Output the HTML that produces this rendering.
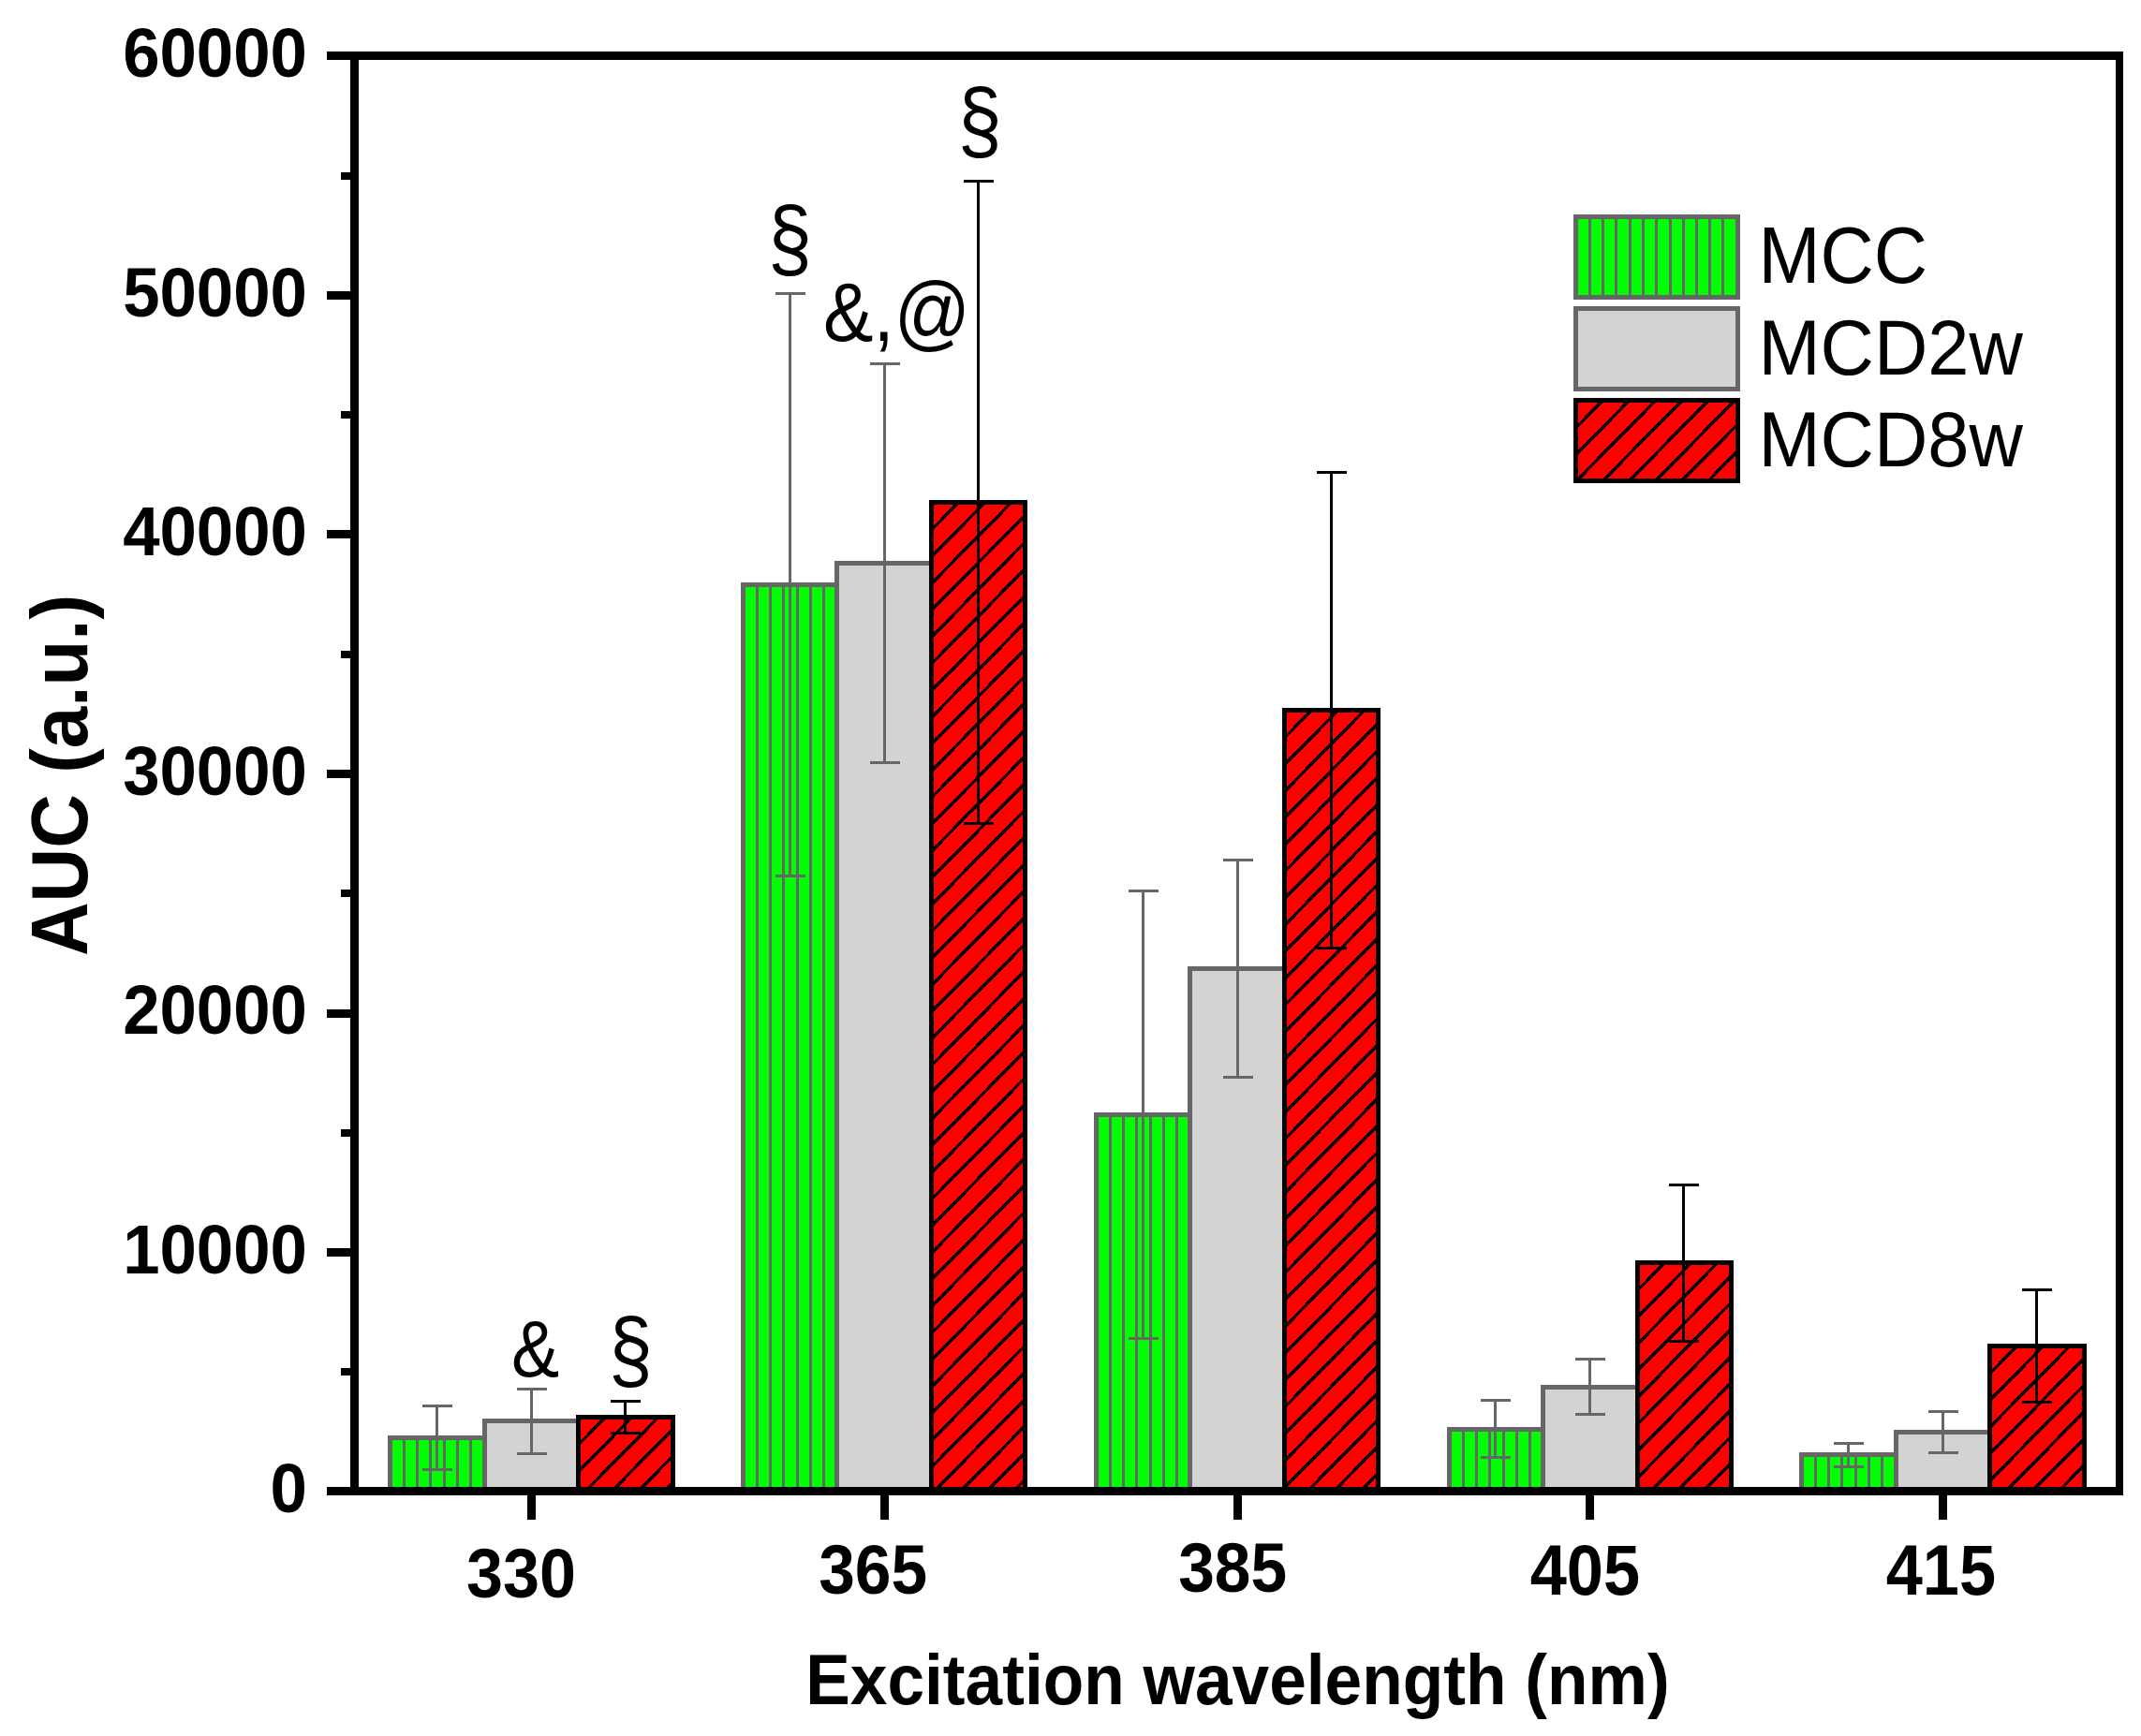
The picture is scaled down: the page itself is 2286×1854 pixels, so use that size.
<!DOCTYPE html>
<html lang="en"><head><meta charset="utf-8"><title>AUC vs excitation wavelength</title>
<style>html,body{margin:0;padding:0;background:#fff}svg{display:block}text{font-family:"Liberation Sans",sans-serif;fill:#000}</style></head><body>
<svg width="2286" height="1854" viewBox="0 0 2286 1854">
<rect x="0" y="0" width="2286" height="1854" fill="#fff"/>
<g shape-rendering="crispEdges">
<rect x="414" y="1533" width="106" height="59" fill="#666666"/>
<rect x="419" y="1538" width="96" height="54" fill="#00ff00"/>
<rect x="430" y="1538" width="3" height="54" fill="#666666"/>
<rect x="444" y="1538" width="3" height="54" fill="#666666"/>
<rect x="458" y="1538" width="3" height="54" fill="#666666"/>
<rect x="473" y="1538" width="3" height="54" fill="#666666"/>
<rect x="487" y="1538" width="3" height="54" fill="#666666"/>
<rect x="501" y="1538" width="3" height="54" fill="#666666"/>
<rect x="515" y="1515" width="105" height="77" fill="#666666"/>
<rect x="520" y="1520" width="95" height="72" fill="#d3d3d3"/>
<rect x="615" y="1511" width="106" height="81" fill="#000"/>
<rect x="620" y="1516" width="96" height="76" fill="#ff0000"/>
<clipPath id="c0"><rect x="620" y="1516" width="96" height="76"/></clipPath>
<path d="M611 1549.70L725 1433.88M611 1578.30L725 1462.48M611 1606.90L725 1491.08M611 1635.50L725 1519.68M611 1664.10L725 1548.28M611 1692.70L725 1576.88M611 1721.30L725 1605.48" stroke="#000" stroke-width="3.4" fill="none" clip-path="url(#c0)"/>
<rect x="791" y="622" width="105" height="970" fill="#666666"/>
<rect x="796" y="627" width="95" height="965" fill="#00ff00"/>
<rect x="807" y="627" width="3" height="965" fill="#666666"/>
<rect x="821" y="627" width="3" height="965" fill="#666666"/>
<rect x="835" y="627" width="3" height="965" fill="#666666"/>
<rect x="850" y="627" width="3" height="965" fill="#666666"/>
<rect x="864" y="627" width="3" height="965" fill="#666666"/>
<rect x="878" y="627" width="3" height="965" fill="#666666"/>
<rect x="891" y="599" width="106" height="993" fill="#666666"/>
<rect x="896" y="604" width="96" height="988" fill="#d3d3d3"/>
<rect x="992" y="534" width="105" height="1058" fill="#000"/>
<rect x="997" y="539" width="95" height="1053" fill="#ff0000"/>
<clipPath id="c1"><rect x="997" y="539" width="95" height="1053"/></clipPath>
<path d="M988 572.70L1101 457.90M988 601.30L1101 486.50M988 629.90L1101 515.10M988 658.50L1101 543.70M988 687.10L1101 572.30M988 715.70L1101 600.90M988 744.30L1101 629.50M988 772.90L1101 658.10M988 801.50L1101 686.70M988 830.10L1101 715.30M988 858.70L1101 743.90M988 887.30L1101 772.50M988 915.90L1101 801.10M988 944.50L1101 829.70M988 973.10L1101 858.30M988 1001.70L1101 886.90M988 1030.30L1101 915.50M988 1058.90L1101 944.10M988 1087.50L1101 972.70M988 1116.10L1101 1001.30M988 1144.70L1101 1029.90M988 1173.30L1101 1058.50M988 1201.90L1101 1087.10M988 1230.50L1101 1115.70M988 1259.10L1101 1144.30M988 1287.70L1101 1172.90M988 1316.30L1101 1201.50M988 1344.90L1101 1230.10M988 1373.50L1101 1258.70M988 1402.10L1101 1287.30M988 1430.70L1101 1315.90M988 1459.30L1101 1344.50M988 1487.90L1101 1373.10M988 1516.50L1101 1401.70M988 1545.10L1101 1430.30M988 1573.70L1101 1458.90M988 1602.30L1101 1487.50M988 1630.90L1101 1516.10M988 1659.50L1101 1544.70M988 1688.10L1101 1573.30M988 1716.70L1101 1601.90" stroke="#000" stroke-width="3.4" fill="none" clip-path="url(#c1)"/>
<rect x="1168" y="1188" width="105" height="404" fill="#666666"/>
<rect x="1173" y="1193" width="95" height="399" fill="#00ff00"/>
<rect x="1184" y="1193" width="3" height="399" fill="#666666"/>
<rect x="1198" y="1193" width="3" height="399" fill="#666666"/>
<rect x="1212" y="1193" width="3" height="399" fill="#666666"/>
<rect x="1227" y="1193" width="3" height="399" fill="#666666"/>
<rect x="1241" y="1193" width="3" height="399" fill="#666666"/>
<rect x="1255" y="1193" width="3" height="399" fill="#666666"/>
<rect x="1268" y="1032" width="106" height="560" fill="#666666"/>
<rect x="1273" y="1037" width="96" height="555" fill="#d3d3d3"/>
<rect x="1369" y="756" width="105" height="836" fill="#000"/>
<rect x="1374" y="761" width="95" height="831" fill="#ff0000"/>
<clipPath id="c2"><rect x="1374" y="761" width="95" height="831"/></clipPath>
<path d="M1365 794.70L1478 679.90M1365 823.30L1478 708.50M1365 851.90L1478 737.10M1365 880.50L1478 765.70M1365 909.10L1478 794.30M1365 937.70L1478 822.90M1365 966.30L1478 851.50M1365 994.90L1478 880.10M1365 1023.50L1478 908.70M1365 1052.10L1478 937.30M1365 1080.70L1478 965.90M1365 1109.30L1478 994.50M1365 1137.90L1478 1023.10M1365 1166.50L1478 1051.70M1365 1195.10L1478 1080.30M1365 1223.70L1478 1108.90M1365 1252.30L1478 1137.50M1365 1280.90L1478 1166.10M1365 1309.50L1478 1194.70M1365 1338.10L1478 1223.30M1365 1366.70L1478 1251.90M1365 1395.30L1478 1280.50M1365 1423.90L1478 1309.10M1365 1452.50L1478 1337.70M1365 1481.10L1478 1366.30M1365 1509.70L1478 1394.90M1365 1538.30L1478 1423.50M1365 1566.90L1478 1452.10M1365 1595.50L1478 1480.70M1365 1624.10L1478 1509.30M1365 1652.70L1478 1537.90M1365 1681.30L1478 1566.50M1365 1709.90L1478 1595.10" stroke="#000" stroke-width="3.4" fill="none" clip-path="url(#c2)"/>
<rect x="1545" y="1524" width="105" height="68" fill="#666666"/>
<rect x="1550" y="1529" width="95" height="63" fill="#00ff00"/>
<rect x="1561" y="1529" width="3" height="63" fill="#666666"/>
<rect x="1575" y="1529" width="3" height="63" fill="#666666"/>
<rect x="1589" y="1529" width="3" height="63" fill="#666666"/>
<rect x="1604" y="1529" width="3" height="63" fill="#666666"/>
<rect x="1618" y="1529" width="3" height="63" fill="#666666"/>
<rect x="1632" y="1529" width="3" height="63" fill="#666666"/>
<rect x="1645" y="1479" width="106" height="113" fill="#666666"/>
<rect x="1650" y="1484" width="96" height="108" fill="#d3d3d3"/>
<rect x="1746" y="1346" width="105" height="246" fill="#000"/>
<rect x="1751" y="1351" width="95" height="241" fill="#ff0000"/>
<clipPath id="c3"><rect x="1751" y="1351" width="95" height="241"/></clipPath>
<path d="M1742 1384.70L1855 1269.90M1742 1413.30L1855 1298.50M1742 1441.90L1855 1327.10M1742 1470.50L1855 1355.70M1742 1499.10L1855 1384.30M1742 1527.70L1855 1412.90M1742 1556.30L1855 1441.50M1742 1584.90L1855 1470.10M1742 1613.50L1855 1498.70M1742 1642.10L1855 1527.30M1742 1670.70L1855 1555.90M1742 1699.30L1855 1584.50M1742 1727.90L1855 1613.10" stroke="#000" stroke-width="3.4" fill="none" clip-path="url(#c3)"/>
<rect x="1921" y="1551" width="106" height="41" fill="#666666"/>
<rect x="1926" y="1556" width="96" height="36" fill="#00ff00"/>
<rect x="1937" y="1556" width="3" height="36" fill="#666666"/>
<rect x="1951" y="1556" width="3" height="36" fill="#666666"/>
<rect x="1965" y="1556" width="3" height="36" fill="#666666"/>
<rect x="1980" y="1556" width="3" height="36" fill="#666666"/>
<rect x="1994" y="1556" width="3" height="36" fill="#666666"/>
<rect x="2008" y="1556" width="3" height="36" fill="#666666"/>
<rect x="2022" y="1527" width="105" height="65" fill="#666666"/>
<rect x="2027" y="1532" width="95" height="60" fill="#d3d3d3"/>
<rect x="2122" y="1435" width="106" height="157" fill="#000"/>
<rect x="2127" y="1440" width="96" height="152" fill="#ff0000"/>
<clipPath id="c4"><rect x="2127" y="1440" width="96" height="152"/></clipPath>
<path d="M2118 1473.70L2232 1357.88M2118 1502.30L2232 1386.48M2118 1530.90L2232 1415.08M2118 1559.50L2232 1443.68M2118 1588.10L2232 1472.28M2118 1616.70L2232 1500.88M2118 1645.30L2232 1529.48M2118 1673.90L2232 1558.08M2118 1702.50L2232 1586.68M2118 1731.10L2232 1615.28" stroke="#000" stroke-width="3.4" fill="none" clip-path="url(#c4)"/>
</g>
<g shape-rendering="crispEdges">
<rect x="465" y="1500" width="3" height="71" fill="#666666"/>
<rect x="451" y="1500" width="32" height="3" fill="#666666"/>
<rect x="451" y="1568" width="32" height="3" fill="#666666"/>
<rect x="566" y="1482" width="3" height="72" fill="#666666"/>
<rect x="552" y="1482" width="32" height="3" fill="#666666"/>
<rect x="552" y="1551" width="32" height="3" fill="#666666"/>
<rect x="666" y="1495" width="3" height="37" fill="#000"/>
<rect x="652" y="1495" width="32" height="3" fill="#000"/>
<rect x="652" y="1529" width="32" height="3" fill="#000"/>
<rect x="842" y="312" width="3" height="625" fill="#666666"/>
<rect x="828" y="312" width="32" height="3" fill="#666666"/>
<rect x="828" y="934" width="32" height="3" fill="#666666"/>
<rect x="943" y="387" width="3" height="429" fill="#666666"/>
<rect x="929" y="387" width="32" height="3" fill="#666666"/>
<rect x="929" y="813" width="32" height="3" fill="#666666"/>
<rect x="1043" y="192" width="3" height="689" fill="#000"/>
<rect x="1029" y="192" width="32" height="3" fill="#000"/>
<rect x="1029" y="878" width="32" height="3" fill="#000"/>
<rect x="1219" y="950" width="3" height="481" fill="#666666"/>
<rect x="1205" y="950" width="32" height="3" fill="#666666"/>
<rect x="1205" y="1428" width="32" height="3" fill="#666666"/>
<rect x="1320" y="917" width="3" height="235" fill="#666666"/>
<rect x="1306" y="917" width="32" height="3" fill="#666666"/>
<rect x="1306" y="1149" width="32" height="3" fill="#666666"/>
<rect x="1420" y="503" width="3" height="511" fill="#000"/>
<rect x="1406" y="503" width="32" height="3" fill="#000"/>
<rect x="1406" y="1011" width="32" height="3" fill="#000"/>
<rect x="1595" y="1494" width="3" height="64" fill="#666666"/>
<rect x="1581" y="1494" width="32" height="3" fill="#666666"/>
<rect x="1581" y="1555" width="32" height="3" fill="#666666"/>
<rect x="1696" y="1450" width="3" height="62" fill="#666666"/>
<rect x="1682" y="1450" width="32" height="3" fill="#666666"/>
<rect x="1682" y="1509" width="32" height="3" fill="#666666"/>
<rect x="1796" y="1264" width="3" height="170" fill="#000"/>
<rect x="1782" y="1264" width="32" height="3" fill="#000"/>
<rect x="1782" y="1431" width="32" height="3" fill="#000"/>
<rect x="1972" y="1540" width="3" height="28" fill="#666666"/>
<rect x="1958" y="1540" width="32" height="3" fill="#666666"/>
<rect x="1958" y="1565" width="32" height="3" fill="#666666"/>
<rect x="2073" y="1506" width="3" height="47" fill="#666666"/>
<rect x="2059" y="1506" width="32" height="3" fill="#666666"/>
<rect x="2059" y="1550" width="32" height="3" fill="#666666"/>
<rect x="2173" y="1376" width="3" height="123" fill="#000"/>
<rect x="2159" y="1376" width="32" height="3" fill="#000"/>
<rect x="2159" y="1496" width="32" height="3" fill="#000"/>
</g>
<g shape-rendering="crispEdges">
<rect x="349" y="55" width="1918" height="9" fill="#000"/>
<rect x="349" y="1588" width="1918" height="9" fill="#000"/>
<rect x="374" y="55" width="9" height="1542" fill="#000"/>
<rect x="2259" y="55" width="8" height="1542" fill="#000"/>
<rect x="349" y="311" width="25" height="9" fill="#000"/>
<rect x="349" y="566" width="25" height="9" fill="#000"/>
<rect x="349" y="822" width="25" height="9" fill="#000"/>
<rect x="349" y="1078" width="25" height="9" fill="#000"/>
<rect x="349" y="1333" width="25" height="9" fill="#000"/>
<rect x="364" y="184" width="10" height="8" fill="#000"/>
<rect x="364" y="439" width="10" height="8" fill="#000"/>
<rect x="364" y="695" width="10" height="8" fill="#000"/>
<rect x="364" y="950" width="10" height="8" fill="#000"/>
<rect x="364" y="1206" width="10" height="8" fill="#000"/>
<rect x="364" y="1461" width="10" height="8" fill="#000"/>
<rect x="563" y="1597" width="9" height="26" fill="#000"/>
<rect x="940" y="1597" width="9" height="26" fill="#000"/>
<rect x="1317" y="1597" width="9" height="26" fill="#000"/>
<rect x="1693" y="1597" width="9" height="26" fill="#000"/>
<rect x="2070" y="1597" width="9" height="26" fill="#000"/>
</g>
<g shape-rendering="crispEdges">
<rect x="1680" y="229" width="178" height="86" fill="#666666"/>
<rect x="1685" y="234" width="168" height="81" fill="#00ff00"/>
<rect x="1696" y="234" width="3" height="81" fill="#666666"/>
<rect x="1710" y="234" width="3" height="81" fill="#666666"/>
<rect x="1724" y="234" width="3" height="81" fill="#666666"/>
<rect x="1739" y="234" width="3" height="81" fill="#666666"/>
<rect x="1753" y="234" width="3" height="81" fill="#666666"/>
<rect x="1767" y="234" width="3" height="81" fill="#666666"/>
<rect x="1782" y="234" width="3" height="81" fill="#666666"/>
<rect x="1796" y="234" width="3" height="81" fill="#666666"/>
<rect x="1810" y="234" width="3" height="81" fill="#666666"/>
<rect x="1824" y="234" width="3" height="81" fill="#666666"/>
<rect x="1838" y="234" width="3" height="81" fill="#666666"/>
<rect x="1680" y="315" width="178" height="5" fill="#666666"/>
<rect x="1680" y="327" width="178" height="86" fill="#666666"/>
<rect x="1685" y="332" width="168" height="81" fill="#d3d3d3"/>
<rect x="1680" y="413" width="178" height="5" fill="#666666"/>
<rect x="1680" y="425" width="178" height="91" fill="#000"/>
<rect x="1685" y="430" width="168" height="81" fill="#ff0000"/>
<clipPath id="c5"><rect x="1685" y="430" width="168" height="81"/></clipPath>
<path d="M1676 463.70L1862 274.73M1676 492.30L1862 303.33M1676 520.90L1862 331.93M1676 549.50L1862 360.53M1676 578.10L1862 389.13M1676 606.70L1862 417.73M1676 635.30L1862 446.33M1676 663.90L1862 474.93M1676 692.50L1862 503.53M1676 721.10L1862 532.13" stroke="#000" stroke-width="3.4" fill="none" clip-path="url(#c5)"/>
</g>
<text transform="translate(131.15 82.25) scale(0.7078 0.7500)" font-size="100" font-weight="bold" >60000</text>
<text transform="translate(131.15 337.75) scale(0.7078 0.7500)" font-size="100" font-weight="bold" >50000</text>
<text transform="translate(131.15 593.25) scale(0.7078 0.7500)" font-size="100" font-weight="bold" >40000</text>
<text transform="translate(131.15 848.75) scale(0.7078 0.7500)" font-size="100" font-weight="bold" >30000</text>
<text transform="translate(131.15 1104.25) scale(0.7078 0.7500)" font-size="100" font-weight="bold" >20000</text>
<text transform="translate(131.15 1359.75) scale(0.7078 0.7500)" font-size="100" font-weight="bold" >10000</text>
<text transform="translate(288.58 1615.25) scale(0.7078 0.7500)" font-size="100" font-weight="bold" >0</text>
<text transform="translate(498.12 1706.15) scale(0.7007 0.7500)" font-size="100" font-weight="bold" >330</text>
<text transform="translate(874.23 1702.25) scale(0.6943 0.7500)" font-size="100" font-weight="bold" >365</text>
<text transform="translate(1258.23 1700.25) scale(0.6943 0.7500)" font-size="100" font-weight="bold" >385</text>
<text transform="translate(1633.67 1703.45) scale(0.7038 0.7528)" font-size="100" font-weight="bold" >405</text>
<text transform="translate(2013.67 1703.45) scale(0.7038 0.7514)" font-size="100" font-weight="bold" >415</text>
<text transform="translate(860.30 1820.10) scale(0.7125 0.7573)" font-size="100" font-weight="bold" >Excitation wavelength (nm)</text>
<text transform="translate(1877.40 302.20) scale(0.7931 0.8474)" font-size="100" font-weight="normal" >MCC</text>
<text transform="translate(1877.38 400.00) scale(0.7946 0.8430)" font-size="100" font-weight="normal" >MCD2w</text>
<text transform="translate(1877.38 497.90) scale(0.7946 0.8416)" font-size="100" font-weight="normal" >MCD8w</text>
<text transform="translate(820.07 287.43) scale(0.8446 0.9493)" font-size="100" font-weight="normal" >§</text>
<text transform="translate(1022.77 161.23) scale(0.8446 0.9493)" font-size="100" font-weight="normal" >§</text>
<text transform="translate(650.08 1474.09) scale(0.8423 0.9418)" font-size="100" font-weight="normal" >§</text>
<text transform="translate(546.04 1470.24) scale(0.7679 0.8590)" font-size="100" font-weight="normal" >&amp;</text>
<text transform="translate(879.06 363.98) scale(0.8015 0.8852)" font-size="100" font-weight="normal" >&amp;,@</text>
<text transform="translate(93.06 1021.08) rotate(-90) scale(0.7991 0.8439)" font-size="100" font-weight="bold">AUC (a.u.)</text>
</svg></body></html>
